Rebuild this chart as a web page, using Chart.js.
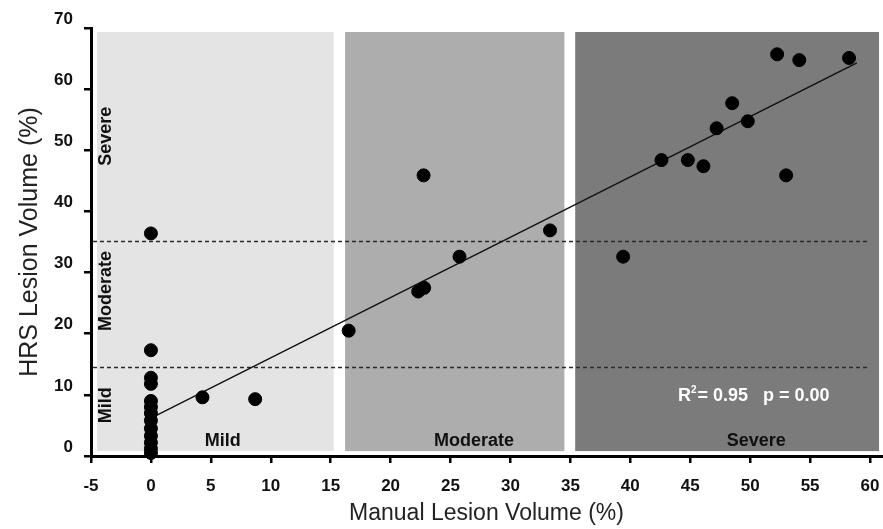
<!DOCTYPE html>
<html>
<head>
<meta charset="utf-8">
<style>
html,body{margin:0;padding:0;background:#fff;}
#wrap{width:883px;height:529px;position:relative;}
</style>
<script src="https://cdn.jsdelivr.net/npm/chart.js@4.4.1/dist/chart.umd.min.js"></script>
</head>
<body>
<div id="wrap"><canvas id="c" width="883" height="529"></canvas></div>
<script>
// ---- data ----
const manualVol = [0, 0, 0, 0, 0, 0, 0, 0, 0, 0, 0, 0, 0,
  4.3, 8.7, 16.5, 22.3, 22.8, 22.75, 25.75, 33.3, 39.4, 42.6, 44.8, 46.1, 47.2, 48.5, 49.8, 52.25, 53.0, 54.1, 58.25];
const hrsVol = [36.4, 17.3, 12.8, 11.8, 9.0, 8.0, 7.0, 5.8, 4.5, 3.3, 2.2, 1.2, 0.5,
  9.6, 9.3, 20.5, 26.9, 27.5, 45.9, 32.6, 36.9, 32.6, 48.4, 48.4, 47.4, 53.6, 57.7, 54.75, 65.7, 45.9, 64.75, 65.1];

// regression line end points
const fitX = [0, 58.9];
const fitY = [6.2, 64.3];

// severity categories
const severityNames = ['Mild', 'Moderate', 'Severe'];
const manualBandStart = [-4.5, 16.2, 35.4];
const manualBandEnd = [15.25, 34.5, 60.75];
const bandLow = 0.8, bandHigh = 69.35;
const hrsCutoffs = [14.6, 35.1];

const xTicks = [-5, 0, 5, 10, 15, 20, 25, 30, 35, 40, 45, 50, 55, 60];
const yTicks = [0, 10, 20, 30, 40, 50, 60, 70];
const statText = {r2: '0.95', p: '0.00'};

// ---- presentation ----
const bandColors = ['#e4e4e4', '#adadad', '#7b7b7b'];
const bottomLabelPos = [[6.0, 2.4], [26.95, 2.4], [50.5, 2.4]];
const sideLabelPos = [[-3.75, 8.3], [-3.75, 27], [-3.75, 52.3]];
const FONT = '"Liberation Sans", Arial, Helvetica, sans-serif';

const scatterData = manualVol.map((v, i) => ({x: v, y: hrsVol[i]}));
const fitData = fitX.map((v, i) => ({x: v, y: fitY[i]}));

const bgPlugin = {
  id: 'bgBands',
  beforeDatasetsDraw(chart) {
    const {ctx} = chart;
    const x = chart.scales.x, y = chart.scales.y;
    ctx.save();
    const yt = y.getPixelForValue(bandHigh), yb = y.getPixelForValue(bandLow);
    for (let i = 0; i < severityNames.length; i++) {
      const x0 = x.getPixelForValue(manualBandStart[i]);
      const x1 = x.getPixelForValue(manualBandEnd[i]);
      ctx.fillStyle = bandColors[i];
      ctx.fillRect(x0, yt, x1 - x0, yb - yt);
    }
    // dashed cut-off lines
    ctx.strokeStyle = '#2a2a2a';
    ctx.lineWidth = 1.3;
    ctx.setLineDash([4, 3]);
    const xs = x.getPixelForValue(-5) + 2, xe = x.getPixelForValue(59.75);
    hrsCutoffs.forEach(v => {
      const py = Math.round(y.getPixelForValue(v)) + 0.5;
      ctx.beginPath(); ctx.moveTo(xs, py); ctx.lineTo(xe, py); ctx.stroke();
    });
    ctx.setLineDash([]);
    // bottom category labels
    ctx.fillStyle = '#111';
    ctx.font = 'bold 18px ' + FONT;
    ctx.textAlign = 'center';
    ctx.textBaseline = 'middle';
    severityNames.forEach((n, i) => {
      ctx.fillText(n, x.getPixelForValue(bottomLabelPos[i][0]), y.getPixelForValue(bottomLabelPos[i][1]));
    });
    // side (vertical) labels
    severityNames.forEach((n, i) => {
      ctx.save();
      ctx.translate(x.getPixelForValue(sideLabelPos[i][0]), y.getPixelForValue(sideLabelPos[i][1]));
      ctx.rotate(-Math.PI / 2);
      ctx.fillText(n, 0, 0);
      ctx.restore();
    });
    // R^2 / p text
    const cx = x.getPixelForValue(50.3), cy = y.getPixelForValue(9.75);
    ctx.fillStyle = '#ffffff';
    ctx.textAlign = 'left';
    const big = 'bold 18px ' + FONT, small = 'bold 10px ' + FONT;
    ctx.font = big; const wR = ctx.measureText('R').width;
    ctx.font = small; const w2 = ctx.measureText('2').width;
    const rest = '= ' + statText.r2 + '   p = ' + statText.p;
    ctx.font = big; const wRest = ctx.measureText(rest).width;
    const total = wR + w2 + 1 + wRest;
    let px = cx - total / 2;
    ctx.fillText('R', px, cy); px += wR;
    ctx.font = small; ctx.fillText('2', px, cy - 6); px += w2 + 1;
    ctx.font = big; ctx.fillText(rest, px, cy);
    ctx.restore();
  }
};

const chart = new Chart(document.getElementById('c'), {
  type: 'scatter',
  data: {
    datasets: [
      {
        type: 'line',
        data: fitData,
        borderColor: '#111',
        borderWidth: 1.4,
        pointRadius: 0,
        fill: false,
        order: 2
      },
      {
        data: scatterData,
        backgroundColor: '#000',
        borderColor: '#000',
        pointRadius: 6.5,
        pointHoverRadius: 6.5,
        clip: false,
        order: 1
      }
    ]
  },
  options: {
    responsive: false,
    animation: false,
    devicePixelRatio: 1,
    layout: {autoPadding: false, padding: {top: 28, right: 1, left: 0, bottom: 0}},
    plugins: {legend: {display: false}, tooltip: {enabled: false}},
    scales: {
      x: {
        type: 'linear',
        min: -5, max: 61,
        afterBuildTicks: s => { s.ticks = xTicks.map(v => ({value: v})); },
        afterFit: s => { s.height = 73; s.paddingLeft = 0; s.paddingRight = 0; },
        border: {color: '#000', width: 3},
        grid: {drawOnChartArea: false, drawTicks: true, tickLength: 7, color: '#000', lineWidth: 2.5},
        ticks: {color: '#111', padding: 13, font: {family: FONT, size: 17, weight: 'bold'}, maxRotation: 0},
        title: {display: true, text: 'Manual Lesion Volume (%)', color: '#222',
          font: {family: FONT, size: 23}, padding: {top: 2, bottom: 2}}
      },
      y: {
        type: 'linear',
        min: 0, max: 70,
        afterBuildTicks: s => { s.ticks = yTicks.map(v => ({value: v})); },
        afterFit: s => { s.width = 91; s.paddingTop = 0; s.paddingBottom = 0; },
        border: {color: '#000', width: 3},
        grid: {drawOnChartArea: false, drawTicks: true, tickLength: 7, color: '#000', lineWidth: 2.5},
        ticks: {color: '#111', padding: 11, labelOffset: -9, font: {family: FONT, size: 17, weight: 'bold'}},
        title: {display: true, text: 'HRS Lesion Volume (%)', color: '#222',
          font: {family: FONT, size: 25}, padding: {top: 15, bottom: 15}}
      }
    }
  },
  plugins: [bgPlugin]
});
</script>
</body>
</html>
